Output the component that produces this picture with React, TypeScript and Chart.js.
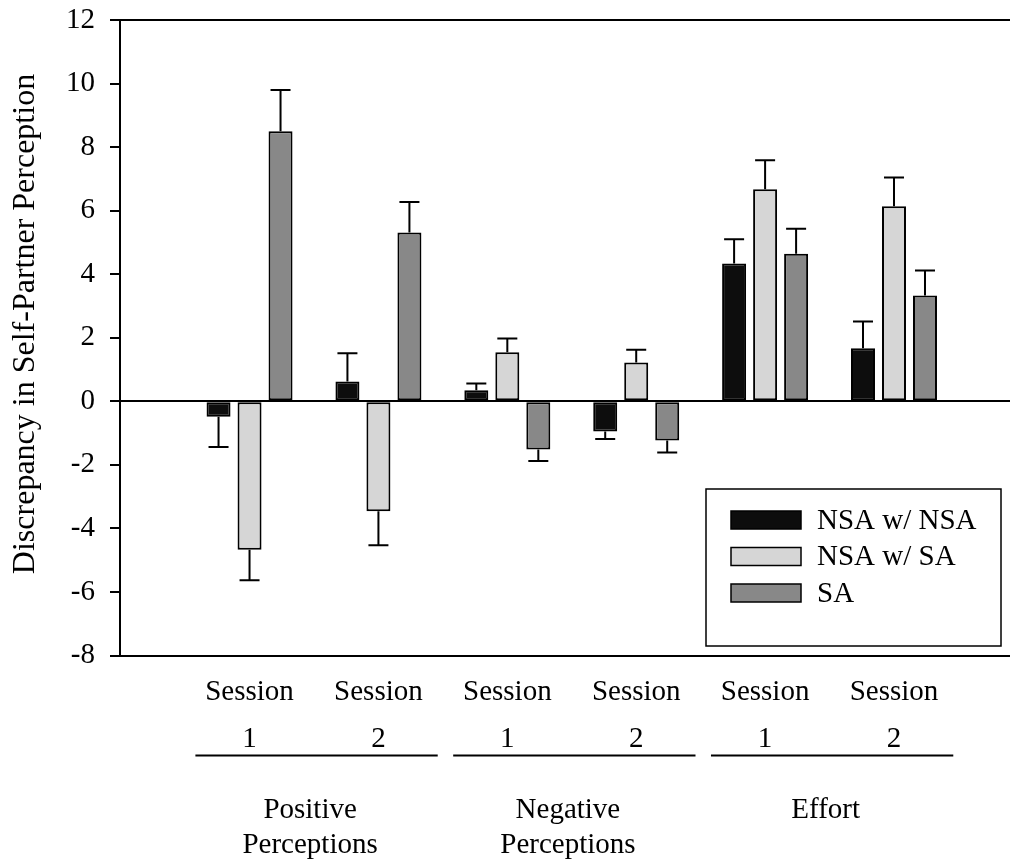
import React, { useEffect, useRef } from "react";
import { Chart, registerables } from "chart.js";

Chart.register(...registerables);

// ---- data ----
const sessionLabels: string[][] = [
  ["Session", "1"],
  ["Session", "2"],
  ["Session", "1"],
  ["Session", "2"],
  ["Session", "1"],
  ["Session", "2"],
];
const measureLabels: string[][] = [
  ["Positive", "Perceptions"],
  ["Negative", "Perceptions"],
  ["Effort"],
];
const seriesNames = ["NSA w/ NSA", "NSA w/ SA", "SA"];
const nsaNsa = [-0.49, 0.62, 0.35, -0.95, 4.34, 1.67];
const nsaNsaErr = [0.95, 0.89, 0.21, 0.24, 0.76, 0.84];
const nsaSa = [-4.67, -3.46, 1.54, 1.22, 6.67, 6.14];
const nsaSaErr = [0.96, 1.07, 0.44, 0.4, 0.92, 0.9];
const sa = [8.5, 5.31, -1.52, -1.23, 4.64, 3.33];
const saErr = [1.3, 0.96, 0.36, 0.38, 0.79, 0.79];
const yTitle = "Discrepancy in Self-Partner Perception";
const yMin = -8;
const yMax = 12;
const yStep = 2;

const FONT = '"Liberation Serif", "Times New Roman", serif';
const colors = ["#0d0d0d", "#d6d6d6", "#888888"];

const overlay = {
  id: "overlay",
  afterDatasetsDraw(chart: any) {
    const ctx = chart.ctx as CanvasRenderingContext2D;
    const ys = chart.scales.y;
    ctx.save();
    ctx.strokeStyle = "#000";
    ctx.lineWidth = 2;
    chart.data.datasets.forEach((ds: any, di: number) => {
      const meta = chart.getDatasetMeta(di);
      meta.data.forEach((bar: any, i: number) => {
        const v = ds.data[i].y;
        const e = ds.errors[i];
        const end = ys.getPixelForValue(v + (v >= 0 ? e : -e));
        ctx.beginPath();
        ctx.moveTo(bar.x, bar.y);
        ctx.lineTo(bar.x, end);
        ctx.moveTo(bar.x - 10, end);
        ctx.lineTo(bar.x + 10, end);
        ctx.stroke();
      });
    });
    ctx.restore();
  },
  afterDraw(chart: any) {
    const ctx = chart.ctx as CanvasRenderingContext2D;
    const xs = chart.scales.x;
    const ca = chart.chartArea;
    ctx.save();
    ctx.fillStyle = "#000";
    ctx.strokeStyle = "#000";

    // y title
    ctx.save();
    ctx.translate(26, 324);
    ctx.rotate(-Math.PI / 2);
    ctx.font = `32px ${FONT}`;
    ctx.textAlign = "center";
    ctx.textBaseline = "middle";
    ctx.fillText(yTitle, 0, 0);
    ctx.restore();

    // group underlines and labels
    ctx.font = `29px ${FONT}`;
    ctx.textAlign = "center";
    ctx.textBaseline = "alphabetic";
    ctx.lineWidth = 2;
    measureLabels.forEach((lines, g) => {
      const x0 = xs.getPixelForValue(2 * g - 0.42);
      const x1 = xs.getPixelForValue(2 * g + 1.46);
      ctx.beginPath();
      ctx.moveTo(x0, ca.bottom + 100);
      ctx.lineTo(x1, ca.bottom + 100);
      ctx.stroke();
      const cx = xs.getPixelForValue(2 * g + 0.47);
      lines.forEach((t, k) => {
        ctx.fillText(t, cx, ca.bottom + 162 + k * 35);
      });
    });

    // legend
    const lx = ca.right - 304;
    const ly = 489;
    ctx.lineWidth = 1.5;
    ctx.strokeRect(lx, ly, 295, 157);
    ctx.font = `29px ${FONT}`;
    ctx.textAlign = "left";
    ctx.textBaseline = "middle";
    chart.data.datasets.forEach((ds: any, i: number) => {
      const cy = ly + 31 + i * 36.5;
      ctx.fillStyle = ds.backgroundColor;
      ctx.fillRect(lx + 25, cy - 9, 70, 18);
      ctx.strokeStyle = "#000";
      ctx.lineWidth = 1.5;
      ctx.strokeRect(lx + 25, cy - 9, 70, 18);
      ctx.fillStyle = "#000";
      ctx.fillText(ds.label, lx + 111, cy + 1);
    });
    ctx.restore();
  },
};

export default function App() {
  const ref = useRef<HTMLCanvasElement>(null);
  useEffect(() => {
    document.body.style.margin = "0";
    const canvas = ref.current!;
    const mk = (i: number, vals: number[], errs: number[]) => ({
      label: seriesNames[i],
      data: vals.map((v, k) => ({ x: k, y: v })),
      errors: errs,
      backgroundColor: colors[i],
      borderColor: "#000",
      borderWidth: 2,
      borderSkipped: false,
    });
    const chart = new Chart(canvas, {
      type: "bar",
      data: {
        datasets: [mk(0, nsaNsa, nsaNsaErr), mk(1, nsaSa, nsaSaErr), mk(2, sa, saErr)] as any,
      },
      options: {
        responsive: false,
        animation: false,
        devicePixelRatio: 1,
        layout: { padding: { top: 20, left: 0, right: 0, bottom: 0 } },
        datasets: { bar: { categoryPercentage: 0.7215, barPercentage: 0.774 } },
        plugins: { legend: { display: false }, tooltip: { enabled: false } },
        scales: {
          x: {
            type: "linear",
            min: -1.005,
            max: 5.9,
            offset: false,
            grid: { display: false, drawTicks: false, tickLength: 0 },
            border: { display: true, color: "#000", width: 2 },
            afterBuildTicks: (s: any) => {
              s.ticks = sessionLabels.map((_, i) => ({ value: i }));
            },
            afterFit: (s: any) => {
              s.height = 207.5;
              s.paddingLeft = 0;
              s.paddingRight = 0;
            },
            ticks: {
              autoSkip: false,
              maxRotation: 0,
              minRotation: 0,
              padding: 14,
              color: "#000",
              font: { family: FONT, size: 29, lineHeight: 1.6 },
              callback: (v: any) => sessionLabels[Math.round(Number(v))] ?? "",
            },
          },
          y: {
            min: yMin,
            max: yMax,
            afterFit: (s: any) => {
              s.width = 120;
              s.paddingTop = 0;
              s.paddingBottom = 0;
            },
            ticks: {
              stepSize: yStep,
              padding: 15,
              color: "#000",
              font: { family: FONT, size: 29 },
            },
            grid: {
              drawTicks: true,
              tickLength: 10,
              tickColor: "#000",
              tickWidth: 2,
              lineWidth: 2,
              color: (c: any) =>
                c.tick && (c.tick.value === 0 || c.tick.value === yMax) ? "#000" : "rgba(0,0,0,0)",
            },
            border: { display: true, color: "#000", width: 2 },
          },
        },
      } as any,
      plugins: [overlay],
    });
    return () => chart.destroy();
  }, []);
  return (
    <div style={{ width: 1010, height: 863 }}>
      <canvas ref={ref} width={1010} height={863} style={{ display: "block", width: 1010, height: 863 }} />
    </div>
  );
}
